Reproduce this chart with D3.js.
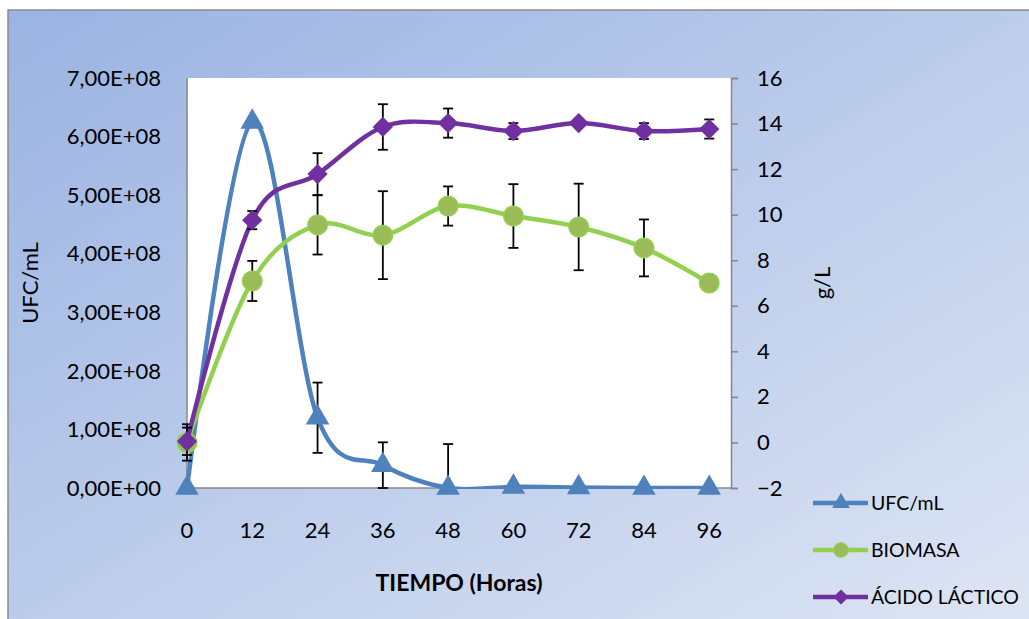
<!DOCTYPE html>
<html>
<head>
<meta charset="utf-8">
<script src="https://cdn.jsdelivr.net/npm/d3@7"></script>
<style>
  body { margin: 0; background: #fff; }
  text { font-family: Lato, "Open Sans", sans-serif; fill: #000; }
</style>
</head>
<body>
<svg id="chart"></svg>
<script>
const width = 1029;
const height = 619;

// data
const horas = [0, 12, 24, 36, 48, 60, 72, 84, 96];
const ufc = [0, 6.25e8, 1.2e8, 0.39e8, 0, 0.02e8, 0.01e8, 0, 0];
const ufcErr = [0, 0.06e8, 0.6e8, 0.39e8, 0.75e8, 0.05e8, 0.04e8, 0.03e8, 0.04e8];
const biomasa = [0, 7.09, 9.55, 9.1, 10.38, 9.94, 9.46, 8.54, 7.0];
const biomasaErr = [0.8, 0.88, 1.3, 1.93, 0.86, 1.4, 1.9, 1.25, 0];
const acido = [0.05, 9.76, 11.78, 13.85, 14.02, 13.67, 14.02, 13.67, 13.76];
const acidoErr = [0.6, 0.4, 0.92, 1.0, 0.64, 0.35, 0, 0.35, 0.42];
const leftTicks = [0, 1e8, 2e8, 3e8, 4e8, 5e8, 6e8, 7e8];
const rightTicks = [-2, 0, 2, 4, 6, 8, 10, 12, 14, 16];
const seriesNames = ["UFC/mL", "BIOMASA", "ÁCIDO LÁCTICO"];

const plot = { left: 187, right: 731, top: 78, bottom: 488 };

const svg = d3.select("#chart")
    .attr("width", width)
    .attr("height", height);

// background gradient
const defs = svg.append("defs");
const grad = defs.append("linearGradient")
    .attr("id", "bg")
    .attr("x1", "0%").attr("y1", "0%")
    .attr("x2", "100%").attr("y2", "100%");
grad.append("stop").attr("offset", "0%").attr("stop-color", "#9ab3e2");
grad.append("stop").attr("offset", "100%").attr("stop-color", "#dfe6f4");

// lines and error bars stop at the bottom axis, markers do not
defs.append("clipPath").attr("id", "clip")
  .append("rect")
    .attr("x", plot.left - 30)
    .attr("y", plot.top - 30)
    .attr("width", plot.right - plot.left + 60)
    .attr("height", plot.bottom - plot.top + 31);

svg.append("rect")
    .attr("x", 8).attr("y", 10)
    .attr("width", width + 10).attr("height", height + 10)
    .attr("fill", "url(#bg)")
    .attr("stroke", "#8a8a8a")
    .attr("stroke-width", 1.5);

svg.append("rect")
    .attr("x", plot.left).attr("y", plot.top)
    .attr("width", plot.right - plot.left)
    .attr("height", plot.bottom - plot.top)
    .attr("fill", "#fff");

const x = d3.scaleLinear().domain([0, 100]).range([plot.left, plot.right]);
const yL = d3.scaleLinear().domain([0, 7e8]).range([plot.bottom, plot.top]);
const yR = d3.scaleLinear().domain([-2, 16]).range([plot.bottom, plot.top]);

const fmtE = d => {
  const s = d3.format(".2e")(d).replace(".", ",").replace("e+", "E+");
  return s.replace(/E\+(\d)$/, "E+0$1");
};

// left axis
svg.append("line")
    .attr("x1", plot.left).attr("x2", plot.left)
    .attr("y1", plot.top).attr("y2", plot.bottom)
    .attr("stroke", "#868686").attr("stroke-width", 1.5);
svg.append("g").selectAll("text")
  .data(leftTicks)
  .enter().append("text")
    .attr("x", 161)
    .attr("y", d => yL(d))
    .attr("dy", "0.35em")
    .attr("text-anchor", "end")
    .style("font-size", "22px")
    .text(fmtE);

// right axis
const rightAxis = svg.append("g")
    .attr("transform", `translate(${plot.right},0)`)
    .call(d3.axisRight(yR).tickValues(rightTicks).tickSize(7).tickPadding(19));
rightAxis.select(".domain").attr("stroke", "#868686").attr("stroke-width", 1.5);
rightAxis.selectAll(".tick line").attr("stroke", "#868686").attr("stroke-width", 1.5);
rightAxis.selectAll(".tick text")
    .style("font-family", "Lato, sans-serif")
    .style("font-size", "22px")
    .attr("fill", "#000");

// bottom axis
svg.append("line")
    .attr("x1", plot.left).attr("x2", plot.right)
    .attr("y1", plot.bottom).attr("y2", plot.bottom)
    .attr("stroke", "#868686").attr("stroke-width", 1.5);
svg.append("g").selectAll("text")
  .data(horas)
  .enter().append("text")
    .attr("x", d => x(d))
    .attr("y", 538)
    .attr("text-anchor", "middle")
    .style("font-size", "22px")
    .text(d => d);

// titles
svg.append("text")
    .attr("transform", "translate(38,283) rotate(-90)")
    .attr("text-anchor", "middle")
    .style("font-size", "22px")
    .text("UFC/mL");
svg.append("text")
    .attr("transform", "translate(830,283) rotate(-90)")
    .attr("text-anchor", "middle")
    .style("font-size", "22px")
    .text("g/L");
svg.append("text")
    .attr("x", 459).attr("y", 591)
    .attr("text-anchor", "middle")
    .style("font-size", "23px")
    .style("font-weight", "bold")
    .text("TIEMPO (Horas)");

const curve = d3.curveCatmullRom.alpha(0);

const series = [
  { name: seriesNames[0], vals: ufc, err: ufcErr, y: yL, line: "#4f81bd", fill: "#4f81bd", edge: "#4f81bd", shape: d3.symbolTriangle, size: 190, rot: 0 },
  { name: seriesNames[1], vals: biomasa, err: biomasaErr, y: yR, line: "#92d050", fill: "#9bbb59", edge: "#92d050", shape: d3.symbolCircle, size: 300, rot: 0 },
  { name: seriesNames[2], vals: acido, err: acidoErr, y: yR, line: "#7030a0", fill: "#7030a0", edge: "#7030a0", shape: d3.symbolSquare, size: 165, rot: 45 }
];

series.forEach(s => {
  const pts = horas.map((h, i) => ({ h, v: s.vals[i], e: s.err[i] }));
  const clipped = svg.append("g").attr("clip-path", "url(#clip)");

  clipped.append("path")
      .datum(pts)
      .attr("fill", "none")
      .attr("stroke", s.line)
      .attr("stroke-width", 4.5)
      .attr("d", d3.line().x(d => x(d.h)).y(d => s.y(d.v)).curve(curve));

  const eb = clipped.append("g")
      .attr("stroke", "#000")
      .attr("stroke-width", 1.8);
  pts.filter(d => d.e > 0).forEach(d => {
    const cx = x(d.h);
    const y1 = s.y(d.v + d.e), y0 = s.y(d.v - d.e);
    eb.append("line").attr("x1", cx).attr("x2", cx).attr("y1", y1).attr("y2", Math.min(y0, plot.bottom));
    eb.append("line").attr("x1", cx - 5).attr("x2", cx + 5).attr("y1", y1).attr("y2", y1);
    if (y0 <= plot.bottom + 1) {
      eb.append("line").attr("x1", cx - 5).attr("x2", cx + 5).attr("y1", y0).attr("y2", y0);
    }
  });

  svg.append("g").selectAll("path")
    .data(pts)
    .enter().append("path")
      .attr("transform", d => `translate(${x(d.h)},${s.y(d.v)}) rotate(${s.rot})`)
      .attr("d", d3.symbol().type(s.shape).size(s.size))
      .attr("fill", s.fill)
      .attr("stroke", s.edge)
      .attr("stroke-width", 1.5);
});

// legend
const legend = svg.append("g");
series.forEach((s, i) => {
  const ly = 503 + i * 47;
  legend.append("line")
      .attr("x1", 813).attr("x2", 868)
      .attr("y1", ly).attr("y2", ly)
      .attr("stroke", s.line)
      .attr("stroke-width", 4.5);
  legend.append("path")
      .attr("transform", `translate(841,${ly}) rotate(${s.rot})`)
      .attr("d", d3.symbol().type(s.shape).size(s.size * 0.55))
      .attr("fill", s.fill)
      .attr("stroke", s.edge)
      .attr("stroke-width", 1.2);
  legend.append("text")
      .attr("x", 871).attr("y", ly)
      .attr("dy", "0.35em")
      .style("font-size", "19.5px")
      .text(s.name);
});
</script>
</body>
</html>
